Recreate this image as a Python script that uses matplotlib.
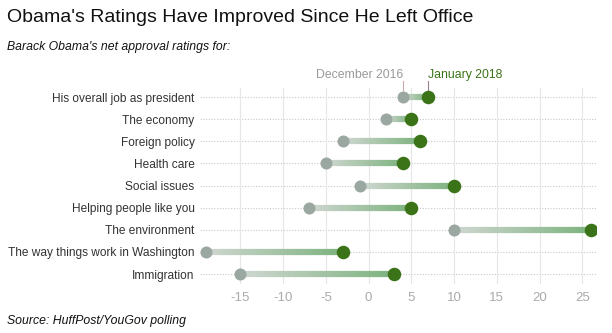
import numpy as np
import matplotlib.pyplot as plt
from matplotlib.collections import LineCollection
from matplotlib.colors import LinearSegmentedColormap

plt.rcParams["font.family"] = ["Liberation Sans", "DejaVu Sans"]

categories = ["His overall job as president", "The economy", "Foreign policy",
              "Health care", "Social issues", "Helping people like you",
              "The environment", "The way things work in Washington", "Immigration"]
dec_2016 = [4, 2, -3, -5, -1, -7, 10, -19, -15]
jan_2018 = [7, 5, 6, 4, 10, 5, 26, -3, 3]
xticks = [-15, -10, -5, 0, 5, 10, 15, 20, 25]

gray = "#9ba7a1"
green = "#3b7418"
cmap = LinearSegmentedColormap.from_list("g", ["#cfd6d0", "#7db37f"])

fig = plt.figure(figsize=(6.12, 3.33), dpi=100)
ax = fig.add_axes([0.327, 0.147, 0.647, 0.588])

y = np.arange(len(categories))
for yi, a, b in zip(y, dec_2016, jan_2018):
    ax.axhline(yi, color="#c8c8c8", lw=0.8, ls=(0, (1, 1.5)), zorder=0)
    # gradient segment
    xs = np.linspace(a, b, 60)
    pts = np.array([xs, np.full_like(xs, yi, dtype=float)]).T.reshape(-1, 1, 2)
    segs = np.concatenate([pts[:-1], pts[1:]], axis=1)
    lc = LineCollection(segs, cmap=cmap, linewidths=4.5, zorder=2)
    lc.set_array(np.linspace(0, 1, len(segs)))
    ax.add_collection(lc)

ax.scatter(dec_2016, y, s=75, color=gray, zorder=3, linewidths=0)
ax.scatter(jan_2018, y, s=95, color=green, zorder=4, linewidths=0)

ax.set_xlim(-19.7, 26.6)
ax.set_ylim(len(categories) - 0.55, -0.4)
ax.set_xticks(xticks)
ax.set_xticklabels([str(t) for t in xticks])
ax.set_yticks(y)
ax.set_yticklabels(categories)
ax.grid(axis="x", color="#e6e6e6", lw=0.8)
ax.set_axisbelow(True)
for s in ax.spines.values():
    s.set_visible(False)
ax.tick_params(axis="x", length=0, colors="#aaaaaa", labelsize=9.5, pad=6)
ax.tick_params(axis="y", length=0, labelcolor="#333333", labelsize=8.6, pad=4)

# series labels over the first row
ax.text(dec_2016[0], -0.75, "December 2016", ha="right", va="bottom",
        color="#999999", fontsize=8.8)
ax.text(jan_2018[0], -0.75, "January 2018", ha="left", va="bottom",
        color=green, fontsize=8.8)
ax.plot([dec_2016[0], dec_2016[0]], [-0.3, -0.75], color="#c9a9a9", lw=0.8, clip_on=False)
ax.plot([jan_2018[0], jan_2018[0]], [-0.3, -0.75], color="#a08090", lw=0.8, clip_on=False)

fig.text(0.011, 0.948, "Obama's Ratings Have Improved Since He Left Office",
         fontsize=14, color="#111111", va="center")
fig.text(0.011, 0.86, "Barack Obama's net approval ratings for:",
         fontsize=8.8, style="italic", color="#111111", va="center")
fig.text(0.011, 0.035, "Source: HuffPost/YouGov polling",
         fontsize=8.8, style="italic", color="#111111", va="center")

fig.savefig("out.png", dpi=100)
